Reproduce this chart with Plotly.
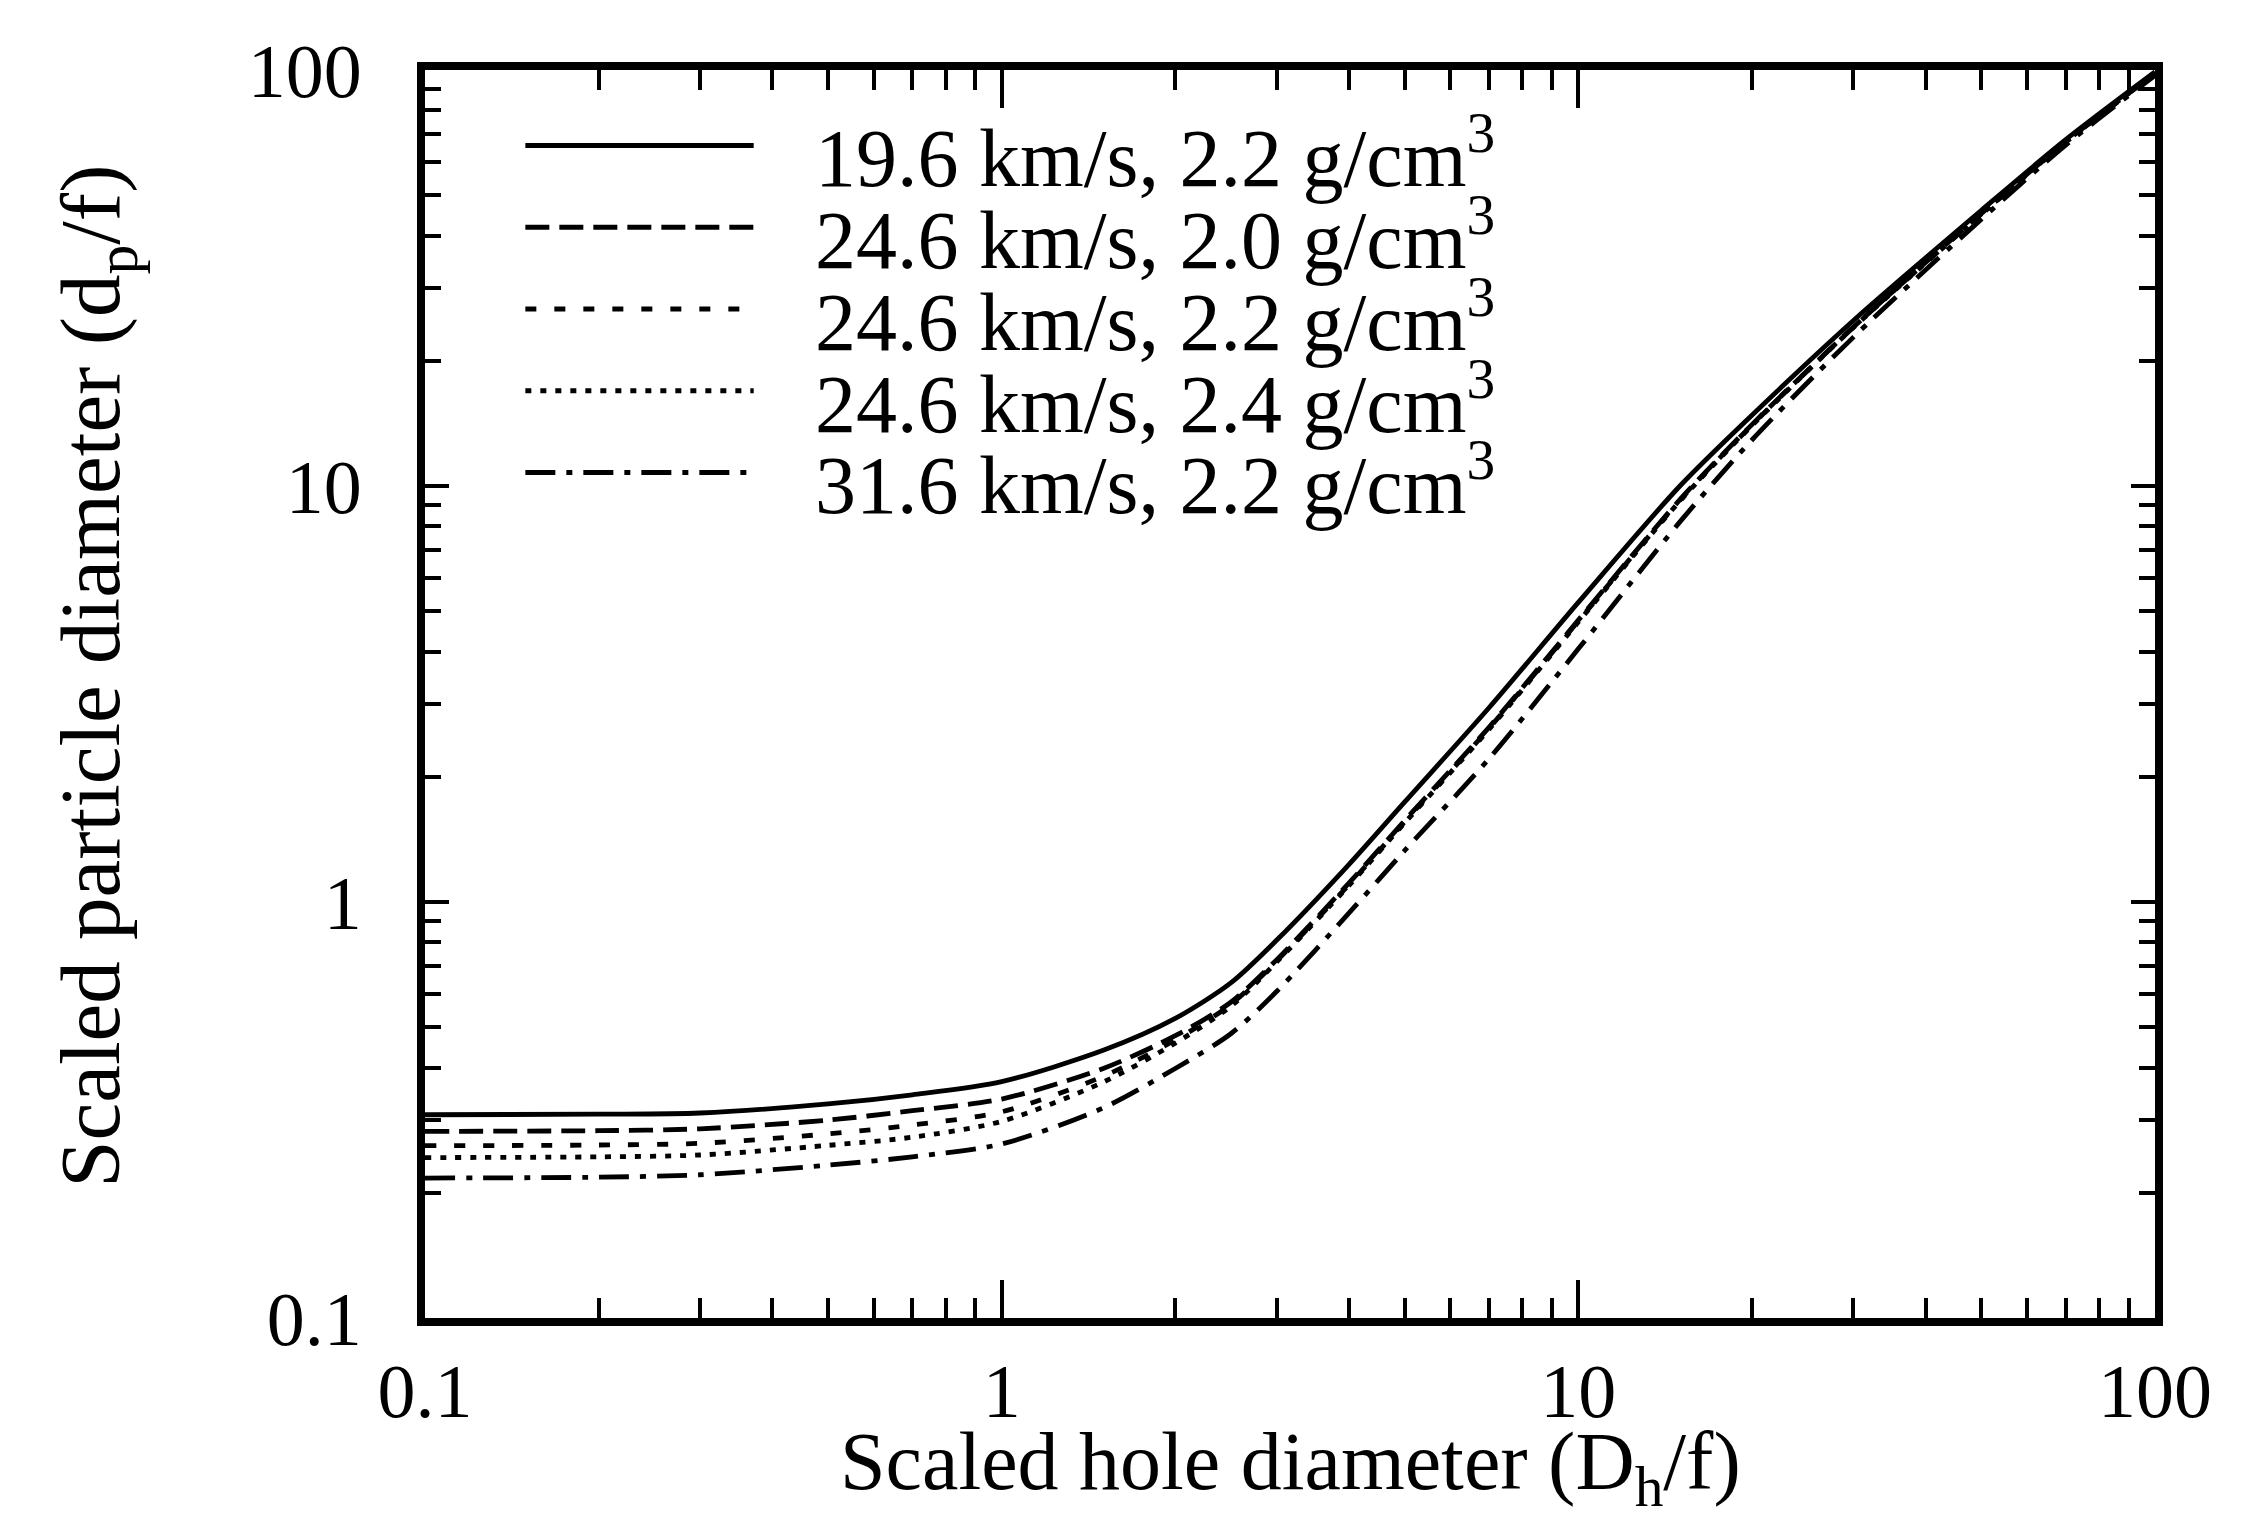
import plotly.graph_objects as go

# ---- data (log-log axes) ----
x_vals = [0.1, 0.2, 0.3, 0.5, 0.7, 1.0, 1.5, 2.0, 2.5, 3.0, 4.0, 5.0, 7.0, 10, 15, 20, 30, 50, 70, 100]

y_v196_r22 = [0.308, 0.309, 0.311, 0.327, 0.344, 0.370, 0.440, 0.525, 0.640, 0.810, 1.23, 1.74, 2.93, 5.25, 10.0, 14.8, 25.0, 46.0, 68.0, 99.0]
y_v246_r20 = [0.281, 0.282, 0.285, 0.299, 0.315, 0.336, 0.398, 0.477, 0.575, 0.727, 1.11, 1.57, 2.63, 4.76, 9.27, 14.05, 24.1, 45.2, 67.2, 98.2]
y_v246_r22 = [0.2595, 0.2605, 0.263, 0.277, 0.291, 0.313, 0.381, 0.466, 0.568, 0.722, 1.10, 1.56, 2.615, 4.735, 9.24, 14.01, 24.1, 45.1, 67.1, 98.1]
y_v246_r24 = [0.243, 0.244, 0.2465, 0.260, 0.272, 0.297, 0.369, 0.458, 0.562, 0.718, 1.095, 1.55, 2.60, 4.71, 9.20, 13.97, 24.05, 45.0, 67.0, 98.0]
y_v316_r22 = [0.217, 0.218, 0.221, 0.233, 0.244, 0.262, 0.320, 0.398, 0.483, 0.610, 0.94, 1.33, 2.21, 4.06, 8.20, 12.9, 22.8, 43.8, 66.0, 97.0]

series_names = [
    "19.6 km/s, 2.2 g/cm<sup>3</sup>",
    "24.6 km/s, 2.0 g/cm<sup>3</sup>",
    "24.6 km/s, 2.2 g/cm<sup>3</sup>",
    "24.6 km/s, 2.4 g/cm<sup>3</sup>",
    "31.6 km/s, 2.2 g/cm<sup>3</sup>",
]
series_values = [y_v196_r22, y_v246_r20, y_v246_r22, y_v246_r24, y_v316_r22]
series_dashes = ["solid", "24px,10px", "11px,18px", "6px,9px", "30px,11px,6px,11px"]

major_ticks = [0.1, 1, 10, 100]
major_labels = ["0.1", "1", "10", "100"]
minor_ticks = [m * d for d in (0.1, 1, 10) for m in range(2, 10)]

x_title = "Scaled hole diameter (D<sub>h</sub>/f)"
y_title = "Scaled particle diameter (d<sub>p</sub>/f)"

FONT = "Liberation Serif, Times New Roman, serif"

fig = go.Figure()
for name, yv, dash in zip(series_names, series_values, series_dashes):
    fig.add_trace(go.Scatter(
        x=x_vals, y=yv, name=name, mode="lines",
        line=dict(color="black", width=4.8, dash=dash, shape="spline", smoothing=0.8),
        showlegend=False,
    ))

# ---- hand-built legend (long line samples as in the reference) ----
leg_x0, leg_x1, leg_tx = 0.058, 0.190, 0.224
leg_y0, leg_dy = 0.9395, 0.0655
for i, (name, dash) in enumerate(zip(series_names, series_dashes)):
    yy = leg_y0 - i * leg_dy
    fig.add_shape(type="line", xref="paper", yref="paper",
                  x0=leg_x0, x1=leg_x1, y0=yy, y1=yy,
                  line=dict(color="black", width=4.8, dash=dash))
    fig.add_annotation(xref="paper", yref="paper", x=leg_tx, y=yy - 0.006,
                       xanchor="left", yanchor="middle", showarrow=False,
                       text=name, font=dict(family=FONT, size=82, color="black"))

# ---- axis titles ----
fig.add_annotation(xref="paper", yref="paper", x=0.5, y=-0.077,
                   xanchor="center", yanchor="top", showarrow=False,
                   text=x_title, font=dict(family=FONT, size=82, color="black"))
fig.add_annotation(xref="paper", yref="paper", x=-0.19, y=0.514,
                   xanchor="center", yanchor="middle", showarrow=False, textangle=-90,
                   text=y_title, font=dict(family=FONT, size=85, color="black"))

axis_common = dict(
    type="log", showgrid=False, zeroline=False,
    showline=True, linewidth=8, linecolor="black", mirror="ticks",
    ticks="inside", tickwidth=4, tickcolor="black",
    tickvals=major_ticks, ticktext=major_labels,
    tickfont=dict(family=FONT, size=76, color="black"),
    automargin=False,
)

fig.update_xaxes(
    **axis_common, range=[-1, 2], ticklen=38, ticklabelstandoff=0,
    minor=dict(tickvals=minor_ticks, ticks="inside", ticklen=20, tickwidth=4,
               tickcolor="black", showgrid=False),
)
fig.update_yaxes(
    **axis_common, range=[-1, 2], ticklen=24, ticklabelstandoff=40,
    minor=dict(tickvals=minor_ticks, ticks="inside", ticklen=16, tickwidth=4,
               tickcolor="black", showgrid=False),
)

fig.update_layout(
    width=2242, height=1521,
    margin=dict(l=425, r=87, t=70, b=203, pad=0),
    paper_bgcolor="white", plot_bgcolor="white",
    font=dict(family=FONT, color="black"),
    showlegend=False,
)

fig.write_html("out.html")
